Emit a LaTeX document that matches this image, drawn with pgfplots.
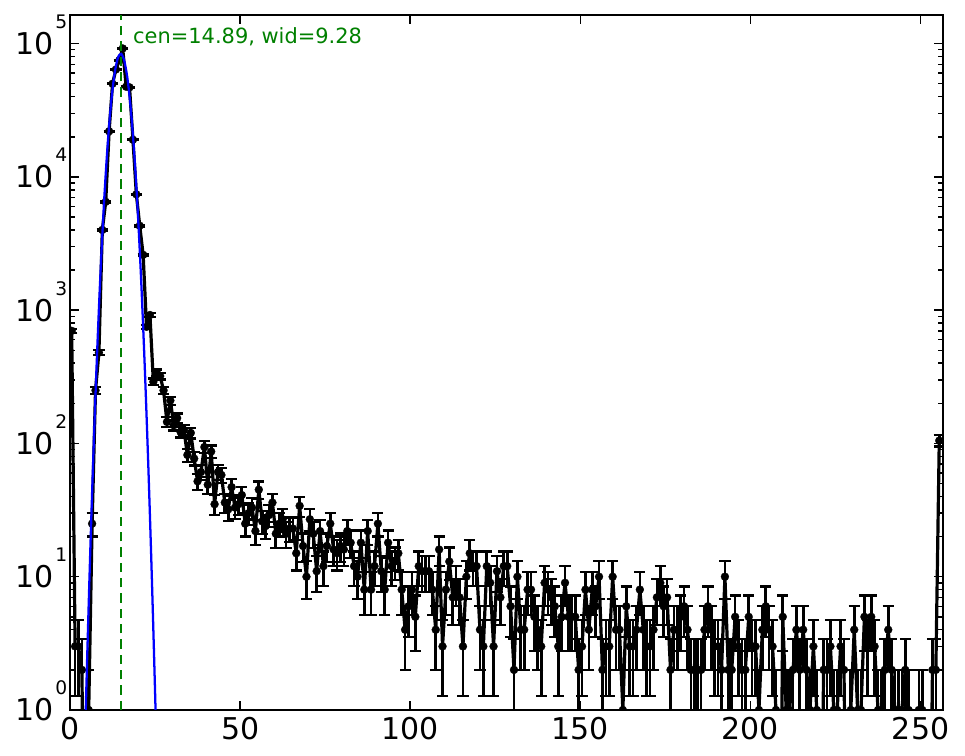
\documentclass[border=0pt]{standalone}
\usepackage{fontspec}
\setmainfont{DejaVu Sans}
\usepackage{pgfplots}
\usepackage{pgfplotstable}
\pgfplotsset{compat=1.18}
\definecolor{mplgreen}{rgb}{0,0.5,0}
\definecolor{mplblue}{rgb}{0,0,1}
\newcommand\ylab[1]{\fontsize{22.5}{22.5}\selectfont 10\kern1.2pt\raisebox{19.5pt}{\fontsize{14}{14}\selectfont #1}}

\pgfplotstableread[row sep=\\]{
k n\\
0 700\\ 1 3\\ 2 3\\ 3 2\\ 4 0\\ 5 1\\ 6 25\\ 7 250\\ 8 480\\ 9 4000\\
10 6500\\ 11 22000\\ 12 50000\\ 13 64000\\ 14 75000\\ 15 92000\\ 16 47500\\ 17 47000\\ 18 19000\\ 19 7400\\
20 4300\\ 21 2600\\ 22 750\\ 23 920\\ 24 290\\ 25 340\\ 26 320\\ 27 250\\ 28 145\\ 29 210\\
30 137\\ 31 155\\ 32 122\\ 33 126\\ 34 82\\ 35 120\\ 36 77\\ 37 52\\ 38 61\\ 39 94\\
40 49\\ 41 87\\ 42 35\\ 43 61\\ 44 58\\ 45 36\\ 46 32\\ 47 47\\ 48 33\\ 49 35\\
50 41\\ 51 25\\ 52 30\\ 53 33\\ 54 22\\ 55 45\\ 56 26\\ 57 24\\ 58 29\\ 59 36\\
60 21\\ 61 25\\ 62 27\\ 63 21\\ 64 23\\ 65 23\\ 66 15\\ 67 34\\ 68 17\\ 69 10\\
70 27\\ 71 21\\ 72 11\\ 73 22\\ 74 12\\ 75 17\\ 76 25\\ 77 16\\ 78 15\\ 79 17\\
80 16\\ 81 22\\ 82 18\\ 83 12\\ 84 10\\ 85 18\\ 86 8\\ 87 22\\ 88 8\\ 89 12\\
90 25\\ 91 11\\ 92 8\\ 93 18\\ 94 12\\ 95 13\\ 96 15\\ 97 8\\ 98 4\\ 99 6\\
100 8\\ 101 5\\ 102 12\\ 103 11\\ 104 11\\ 105 11\\ 106 8\\ 107 4\\ 108 16\\ 109 3\\
110 8\\ 111 13\\ 112 7\\ 113 9\\ 114 7\\ 115 3\\ 116 10\\ 117 15\\ 118 12\\ 119 12\\
120 4\\ 121 3\\ 122 12\\ 123 9\\ 124 3\\ 125 11\\ 126 7\\ 127 12\\ 128 12\\ 129 6\\
130 2\\ 131 10\\ 132 4\\ 133 4\\ 134 8\\ 135 8\\ 136 5\\ 137 4\\ 138 3\\ 139 9\\
140 8\\ 141 7\\ 142 6\\ 143 3\\ 144 5\\ 145 9\\ 146 5\\ 147 5\\ 148 5\\ 149 2\\
150 3\\ 151 8\\ 152 4\\ 153 8\\ 154 6\\ 155 10\\ 156 2\\ 157 3\\ 158 3\\ 159 10\\
160 4\\ 161 4\\ 162 1\\ 163 6\\ 164 3\\ 165 3\\ 166 4\\ 167 8\\ 168 4\\ 169 3\\
170 3\\ 171 4\\ 172 7\\ 173 9\\ 174 6\\ 175 7\\ 176 2\\ 177 4\\ 178 4\\ 179 5\\
180 6\\ 181 4\\ 182 2\\ 183 2\\ 184 2\\ 185 2\\ 186 4\\ 187 6\\ 188 4\\ 189 3\\
190 3\\ 191 2\\ 192 10\\ 193 2\\ 194 2\\ 195 5\\ 196 3\\ 197 2\\ 198 2\\ 199 5\\
200 3\\ 201 3\\ 202 1\\ 203 4\\ 204 6\\ 205 4\\ 206 3\\ 207 1\\ 208 0\\ 209 5\\
210 1\\ 211 1\\ 212 2\\ 213 4\\ 214 2\\ 215 4\\ 216 2\\ 217 1\\ 218 3\\ 219 1\\
220 0\\ 221 2\\ 222 2\\ 223 3\\ 224 1\\ 225 1\\ 226 3\\ 227 2\\ 228 0\\ 229 1\\
230 4\\ 231 1\\ 232 1\\ 233 5\\ 234 3\\ 235 5\\ 236 3\\ 237 1\\ 238 1\\ 239 2\\
240 4\\ 241 2\\ 242 1\\ 243 1\\ 244 1\\ 245 2\\ 246 1\\ 247 0\\ 248 0\\ 249 1\\
250 1\\ 251 0\\ 252 0\\ 253 2\\ 254 2\\ 255 105\\
}\datatable

\begin{document}
\begin{tikzpicture}
\begin{axis}[
  scale only axis, width=654.5pt, height=521.25pt,
  ymode=log, log basis y=10,
  xmin=0, xmax=256.5, ymin=1, ymax=1.64e5,
  axis line style={line width=1.5pt},
  xtick={0,50,100,150,200,250},
  xticklabels={0,50,100,150,200,250},
  ytick={1,10,100,1000,10000,100000},
  yticklabels={\ylab{0},\ylab{1},\ylab{2},\ylab{3},\ylab{4},\ylab{5}},
  minor ytick={2,3,4,5,6,7,8,9,20,30,40,50,60,70,80,90,200,300,400,500,600,700,800,900,2000,3000,4000,5000,6000,7000,8000,9000,20000,30000,40000,50000,60000,70000,80000,90000},
  xtick pos=both, ytick pos=both,
  tick align=inside,
  major tick length=6.5pt, minor tick length=3.5pt,
  every tick/.style={black, line width=1.1pt},
  xticklabel style={anchor=north, inner sep=0pt, yshift=-5pt, font=\fontsize{22.5}{22.5}\selectfont},
  yticklabel style={anchor=base east, inner sep=0pt, xshift=-1.8pt, yshift=-8.2pt},
  clip marker paths=true,
]
\addplot[black, line width=2.4pt, line join=round, mark=*, mark size=3pt,
  mark options={solid, fill=black, line width=0.2pt},
  error bars/.cd, y dir=both, y explicit, error mark=-,
  error bar style={line width=2pt, black},
  error mark options={rotate=90, line width=1.7pt, mark size=4.2pt, black}]
  table[x expr=\thisrow{k}+0.5, y expr={max(\thisrow{n},0.01)},
        y error plus expr={sqrt(\thisrow{n})},
        y error minus expr={min(sqrt(\thisrow{n}),0.999*\thisrow{n})}] {\datatable};
\addplot[mplblue, line width=1.7pt, smooth] coordinates {
 (3,0.0204)(4,0.2366)(5,2.22)(6,16.8)(7,102.5)(8,504)(9,1996)(10,6383)(11,16440)(12,34120)(13,57100)(14,77100)(15,83800)(16,73500)(17,52000)(18,29600)(19,13600)(20,5035)(21,1503)(22,361)(23,70.2)(24,11.0)(25,1.38)(26,0.14)(27,0.0115)};
\addplot[mplgreen, line width=1.6pt, dash pattern=on 7pt off 4.5pt] coordinates {(14.89,1)(14.89,1.64e5)};
\node[anchor=base west, inner sep=0pt, text=mplgreen, font=\fontsize{15.7}{15.7}\selectfont] at (axis cs:18.5,100000) {cen=14.89, wid=9.28};
\end{axis}
\pgfresetboundingbox
\path[use as bounding box] (-52.5pt,-34.5pt) rectangle (671.25pt,532.5pt);
\end{tikzpicture}
\end{document}
